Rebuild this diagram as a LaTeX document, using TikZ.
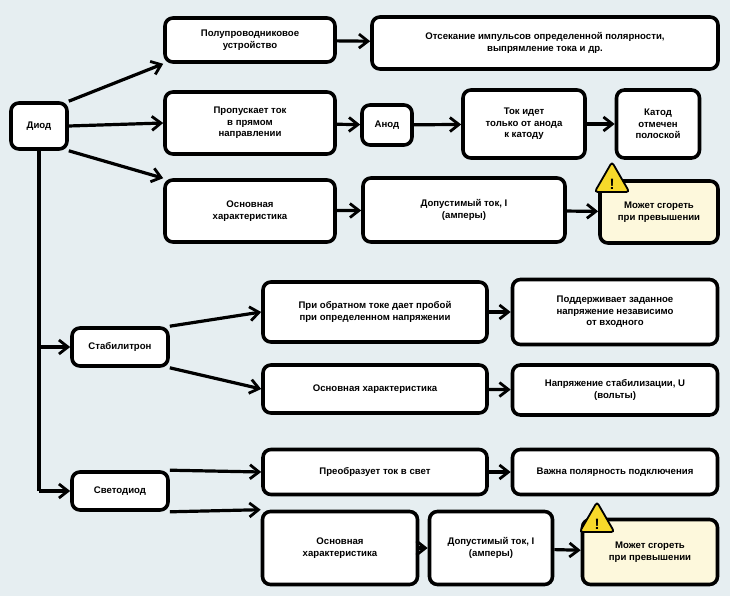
\documentclass[tikz,border=0pt]{standalone}
\usepackage{fontspec}
\setmainfont{Liberation Sans}
\usetikzlibrary{arrows.meta,shapes.geometric,calc}
\definecolor{bg}{HTML}{E6EEF1}
\definecolor{warn}{HTML}{FDF8DC}
\definecolor{tri}{HTML}{F7D92A}
\begin{document}
\begin{tikzpicture}[x=1pt,y=-1pt,
  box/.style={draw=black,line width=3.6pt,rounded corners=8pt,fill=white,align=center,
    font=\bfseries\fontsize{9.6}{11.5}\selectfont,inner sep=2pt},
  wb/.style={box,fill=warn},
  ar/.style={line width=3.2pt,-{Straight Barb[length=9pt,width=14pt,line width=2.8pt]}},
  ln/.style={line width=3.2pt}]
\fill[bg] (0,0) rectangle (730,596);
\useasboundingbox (0,0) rectangle (730,596);
\newcommand{\bx}[6][box]{\node[#1,minimum width=#4,minimum height=#5] (#2) at #3 {#6};}
\bx{diod}{(39,126)}{56pt}{46pt}{Диод}
\bx{pol}{(250,40)}{170pt}{44pt}{Полупроводниковое\\устройство}
\bx{ots}{(545,43)}{346pt}{52pt}{Отсекание импульсов определенной полярности,\\выпрямление тока и др.}
\bx{pro}{(250,123)}{170pt}{62pt}{Пропускает ток\\в прямом\\направлении}
\bx{anod}{(387,125)}{50pt}{40pt}{Анод}
\bx{tok}{(524,124)}{122pt}{68pt}{Ток идет\\только от анода\\к катоду}
\bx{kat}{(658,124)}{83pt}{68pt}{Катод\\отмечен\\полоской}
\bx{os1}{(250,211)}{170pt}{62pt}{Основная\\характеристика}
\bx{dop1}{(464,210)}{202pt}{64pt}{Допустимый ток, I\\(амперы)}
\bx[wb]{mog1}{(659,212)}{118pt}{62pt}{Может сгореть\\при превышении}
\bx{stab}{(120,347)}{96pt}{38pt}{Стабилитрон}
\bx{obr}{(375,312)}{224pt}{60pt}{При обратном токе дает пробой\\при определенном напряжении}
\bx{pod}{(615,312)}{205pt}{65pt}{Поддерживает заданное\\напряжение независимо\\от входного}
\bx{os2}{(375,389)}{224pt}{48pt}{Основная характеристика}
\bx{nap}{(615,390)}{205pt}{50pt}{Напряжение стабилизации, U\\(вольты)}
\bx{svet}{(120,491)}{96pt}{38pt}{Светодиод}
\bx{preo}{(375,472)}{224pt}{45pt}{Преобразует ток в свет}
\bx{vaz}{(615,472)}{205pt}{45pt}{Важна полярность подключения}
\bx{os3}{(340,548)}{155pt}{73pt}{Основная\\характеристика}
\bx{dop3}{(491,548)}{123pt}{73pt}{Допустимый ток, I\\(амперы)}
\bx[wb]{mog3}{(650,552)}{135pt}{65pt}{Может сгореть\\при превышении}
% warning triangles
\foreach \n/\p in {t1/{(612,182)},t3/{(597,522)}}{
  \node[regular polygon,regular polygon sides=3,draw=black,line width=1.8pt,fill=tri,
    rounded corners=3pt,minimum size=40pt,inner sep=0pt] (\n) at \p {};
  \node[font=\bfseries\fontsize{15}{15}\selectfont] (\n x) at ($(\n)+(0,2)$) {!};
}
% diode branches
\draw[ar] (diod.north east) -- (pol.south west);
\draw[ar] (diod.east) -- (pro.west);
\draw[ar] (diod.south east) -- (os1.north west);
\coordinate (c1) at (39,347);
\coordinate (c2) at (39,491);
\draw[ln] (diod.south) -- (c2);
\draw[ar] (c1) -- (stab.west);
\draw[ar] (c2) -- (svet.west);
\draw[ar] (pol) -- (ots);
\draw[ar] (pro) -- (anod);
\draw[ar] (anod) -- (tok);
\draw[ar] (tok) -- (kat);
\draw[ar] (os1) -- (dop1);
\draw[ar] (dop1) -- (mog1);
\draw[ar] (stab.north east) -- (obr.west);
\draw[ar] (stab.south east) -- (os2.west);
\draw[ar] (obr) -- (pod);
\draw[ar] (os2) -- (nap);
\draw[ar] (svet.north east) -- (preo.west);
\draw[ar] (svet.south east) -- (os3.north west);
\draw[ar] (preo) -- (vaz);
\draw[ar] (os3) -- (dop3);
\draw[ar] (dop3) -- (mog3);
\end{tikzpicture}
\end{document}
